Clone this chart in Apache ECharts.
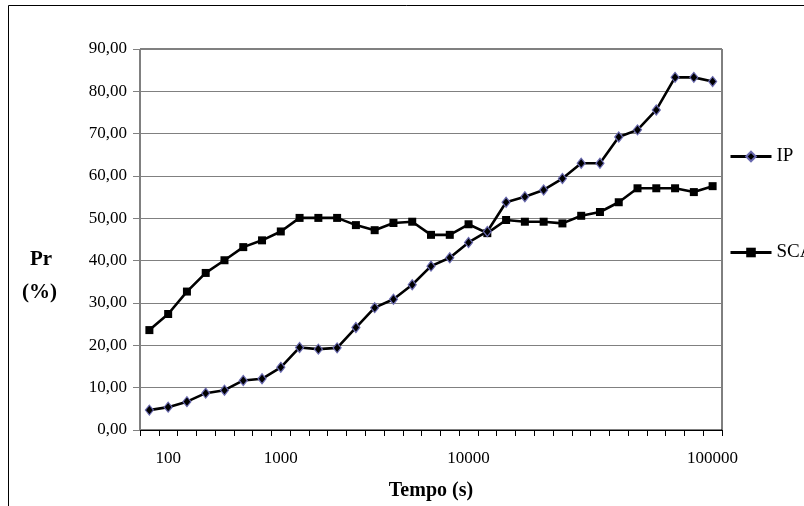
<!DOCTYPE html>
<html>
<head>
<meta charset="utf-8">
<script src="https://cdn.jsdelivr.net/npm/echarts@6/dist/echarts.min.js"></script>
<style>
  html, body { margin: 0; padding: 0; background: #fff; }
  #main { width: 804px; height: 506px; }
</style>
</head>
<body>
<div id="main"></div>
<script>
// rótulos do eixo x (categorias igualmente espaçadas, só algumas com texto)
var xLabels = ['', '100', '', '', '', '', '', '1000', '', '', '', '', '', '', '', '', '', '10000',
    '', '', '', '', '', '', '', '', '', '', '', '', '100000'];
var ipData = [4.7, 5.4, 6.7, 8.7, 9.4, 11.7, 12.1, 14.8, 19.5, 19.1, 19.4, 24.2, 28.9, 30.9, 34.3, 38.7,
    40.7, 44.3, 46.9, 53.8, 55.1, 56.7, 59.4, 63.0, 63.0, 69.2, 70.9, 75.6, 83.3, 83.3, 82.3];
var scaData = [23.6, 27.4, 32.7, 37.1, 40.1, 43.2, 44.8, 46.9, 50.1, 50.1, 50.1, 48.4, 47.2, 48.9, 49.2, 46.1,
    46.1, 48.6, 46.5, 49.6, 49.2, 49.2, 48.8, 50.6, 51.5, 53.8, 57.1, 57.1, 57.1, 56.2, 57.6];

var font = 'Liberation Serif';
var myChart = echarts.init(document.getElementById('main'));

var option = {
    animation: false,
    backgroundColor: '#fff',
    grid: {
        left: 140,
        right: 82,
        top: 49,
        bottom: 65,
        show: true,
        borderColor: '#000',
        borderWidth: 1
    },
    legend: {
        orient: 'vertical',
        left: 729,
        top: 147,
        padding: 0,
        itemWidth: 41,
        itemHeight: 12,
        itemGap: 77,
        lineStyle: { width: 3, color: '#000' },
        textStyle: { fontFamily: font, fontSize: 19, color: '#000' },
        data: ['IP', 'SCA']
    },
    xAxis: {
        type: 'category',
        boundaryGap: true,
        data: xLabels.map(function (s, i) { return 'c' + i; }),
        axisLine: { lineStyle: { color: '#000', width: 1 } },
        axisTick: { show: true, interval: 0, length: 6, lineStyle: { color: '#000' } },
        axisLabel: {
            interval: 0,
            margin: 20,
            fontFamily: font,
            fontSize: 17,
            color: '#000',
            formatter: function (v, i) { return xLabels[i]; }
        },
        splitLine: { show: false },
        name: 'Tempo (s)',
        nameLocation: 'middle',
        nameGap: 51,
        nameTextStyle: { fontFamily: font, fontSize: 20, fontWeight: 'bold', color: '#000' }
    },
    yAxis: {
        type: 'value',
        min: 0,
        max: 90,
        interval: 10,
        axisLine: { show: true, lineStyle: { color: '#808080' } },
        axisTick: { show: true, length: 7, lineStyle: { color: '#808080' } },
        axisLabel: {
            margin: 13,
            fontFamily: font,
            fontSize: 17,
            color: '#000',
            formatter: function (v) { return v.toFixed(2).replace('.', ','); }
        },
        splitLine: { lineStyle: { color: '#808080', width: 1 } }
    },
    graphic: [
        {
            type: 'rect',
            shape: { x: 8.5, y: 5.5, width: 1000, height: 1000 },
            style: { fill: 'none', stroke: '#000', lineWidth: 1 },
            silent: true
        },
        {
            type: 'text',
            left: 30, top: 249,
            style: { text: 'Pr', fontFamily: font, fontSize: 21, fontWeight: 'bold', fill: '#000' }
        },
        {
            type: 'text',
            left: 22, top: 282,
            style: { text: '(%)', fontFamily: font, fontSize: 21, fontWeight: 'bold', fill: '#000' }
        }
    ],
    series: [
        {
            name: 'IP',
            type: 'line',
            data: ipData,
            symbol: 'diamond',
            symbolSize: [8, 10],
            lineStyle: { color: '#000', width: 2.6 },
            itemStyle: { color: '#000', borderColor: '#6a6ab0', borderWidth: 1.2 },
            z: 3
        },
        {
            name: 'SCA',
            type: 'line',
            data: scaData,
            symbol: 'rect',
            symbolSize: 8,
            lineStyle: { color: '#000', width: 2.6 },
            itemStyle: { color: '#000' },
            z: 2
        }
    ]
};

myChart.setOption(option);
</script>
</body>
</html>
